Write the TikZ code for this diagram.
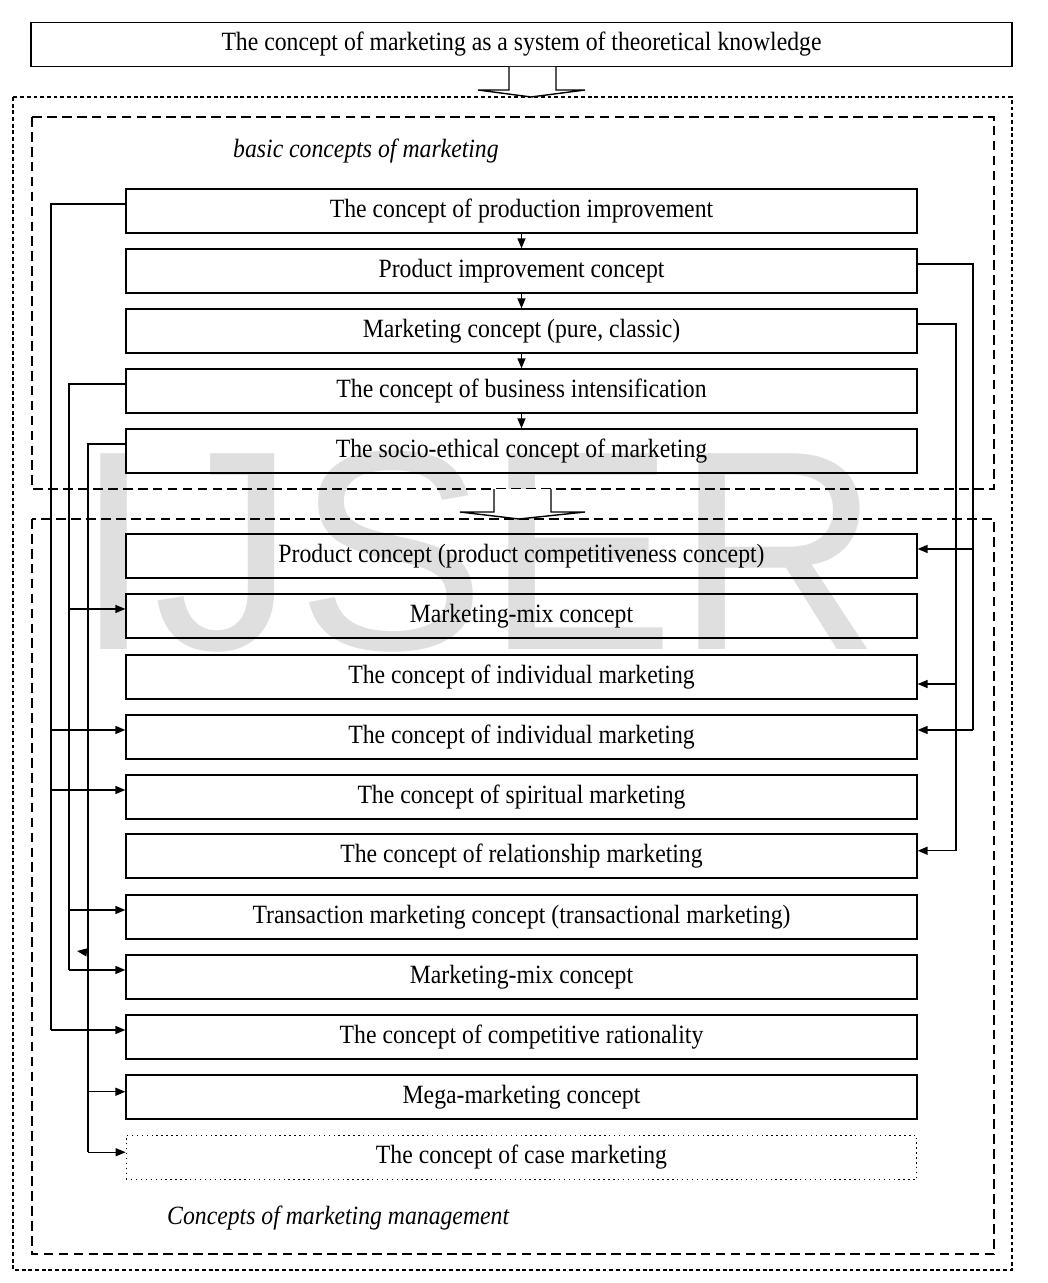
\documentclass[tikz,border=0pt]{standalone}
\usepackage{fontspec}
\setmainfont{Liberation Serif}[FakeStretch=0.9]
\newfontfamily\wmfont{Liberation Sans}
\usetikzlibrary{arrows.meta, positioning, calc}

\begin{document}
\begin{tikzpicture}[x=0.02cm, y=-0.02cm, every node/.style={font=\fontsize{15}{17}\selectfont},
    concept/.style={draw, rectangle, line width=0.8pt, minimum width=15.82cm, minimum height=0.88cm, inner sep=0pt},
    arr/.style={line width=0.8pt, -{Triangle[length=0.2cm, width=0.16cm]}},
    link/.style={line width=0.8pt},
    outerbox/.style={line width=0.8pt, dash pattern=on 2.2pt off 1.6pt},
    innerbox/.style={line width=0.8pt, dash pattern=on 5.5pt off 3pt}]
    \useasboundingbox (0,0) rectangle (1047,1283);
    % watermark behind everything
    \node[font=\wmfont\fontsize{162}{162}\selectfont, text=gray!25] (mark) at (478,552) {IJSER};

    \node[concept, minimum width=19.62cm] (top) at (521.5,44.5) {The concept of marketing as a system of theoretical knowledge};
    \draw[outerbox] (13,97) rectangle (1012,1270);
    \draw[innerbox] (32,117) rectangle (994,489);
    \draw[innerbox] (32,519) rectangle (994,1254);
    \draw[link, fill=white] (509,67) -- (509,90) -- (478,90) -- (531,97) -- (585,90) -- (556,90) -- (556,67);
    \draw[link, fill=white] (494,489) -- (494,512) -- (460,512) -- (519,519) -- (585,512) -- (551,512) -- (551,489);

    \node[font=\itshape\fontsize{15}{17}\selectfont, anchor=west] (basic) at (227,151) {basic concepts of marketing};
    \node[font=\itshape\fontsize{15}{17}\selectfont, anchor=west] (mgmt) at (161,1218) {Concepts of marketing management};

    % basic concepts
    \node[concept] (b1) at (521.5,211) {The concept of production improvement};
    \node[concept] (b2) at (521.5,271) {Product improvement concept};
    \node[concept] (b3) at (521.5,331) {Marketing concept (pure, classic)};
    \node[concept] (b4) at (521.5,391) {The concept of business intensification};
    \node[concept] (b5) at (521.5,451) {The socio-ethical concept of marketing};
    \foreach \i/\j in {b1/b2,b2/b3,b3/b4,b4/b5}{
        \draw[arr] (\i) -- (\j);
    }

    % management concepts
    \node[concept] (m1) at (521.5,556) {Product concept (product competitiveness concept)};
    \node[concept] (m2) at (521.5,616) {Marketing-mix concept};
    \node[concept] (m3) at (521.5,677) {The concept of individual marketing};
    \node[concept] (m4) at (521.5,737) {The concept of individual marketing};
    \node[concept] (m5) at (521.5,797) {The concept of spiritual marketing};
    \node[concept] (m6) at (521.5,856) {The concept of relationship marketing};
    \node[concept] (m7) at (521.5,917) {Transaction marketing concept (transactional marketing)};
    \node[concept] (m8) at (521.5,977) {Marketing-mix concept};
    \node[concept] (m9) at (521.5,1037) {The concept of competitive rationality};
    \node[concept] (m10) at (521.5,1097) {Mega-marketing concept};
    \node[concept, dotted, line width=0.5pt] (m11) at (521.5,1157.5) {The concept of case marketing};

    % trunks on the left and right
    \coordinate (l1) at (51,0);
    \coordinate (l2) at (69,0);
    \coordinate (l3) at (88,0);
    \coordinate (r1) at (973,0);
    \coordinate (r2) at (956,0);

    \draw[link] ([yshift=4pt]b1.west) -- ([yshift=4pt]b1.west -| l1) -- ([yshift=4pt]m9.west -| l1);
    \foreach \n in {m4,m5,m9}{
        \draw[arr] ([yshift=4pt]\n.west -| l1) -- ([yshift=4pt]\n.west);
    }
    \draw[link] ([yshift=4pt]b4.west) -- ([yshift=4pt]b4.west -| l2) -- ([yshift=4pt]m8.west -| l2);
    \foreach \n in {m2,m7,m8}{
        \draw[arr] ([yshift=4pt]\n.west -| l2) -- ([yshift=4pt]\n.west);
    }
    \draw[link] ([yshift=4pt]b5.west) -- ([yshift=4pt]b5.west -| l3) -- ([yshift=3pt]m11.west -| l3);
    \draw[arr] ([yshift=3pt]m10.west -| l3) -- ([yshift=3pt]m10.west);
    \draw[arr] ([yshift=3pt]m11.west -| l3) -- ([yshift=3pt]m11.west);
    \coordinate (stray) at (77,951);
    \draw[arr] ([yshift=1pt]m8.north -| l3) -- (stray);

    \draw[link] ([yshift=4pt]b2.east) -- ([yshift=4pt]b2.east -| r1) -- ([yshift=4pt]m4.east -| r1);
    \foreach \n in {m1,m4}{
        \draw[arr] ([yshift=4pt]\n.east -| r1) -- ([yshift=4pt]\n.east);
    }
    \draw[link] ([yshift=4pt]b3.east) -- ([yshift=4pt]b3.east -| r2) -- ([yshift=3pt]m6.east -| r2);
    \draw[arr] ([yshift=-4pt]m3.east -| r2) -- ([yshift=-4pt]m3.east);
    \draw[arr] ([yshift=3pt]m6.east -| r2) -- ([yshift=3pt]m6.east);
\end{tikzpicture}
\end{document}
